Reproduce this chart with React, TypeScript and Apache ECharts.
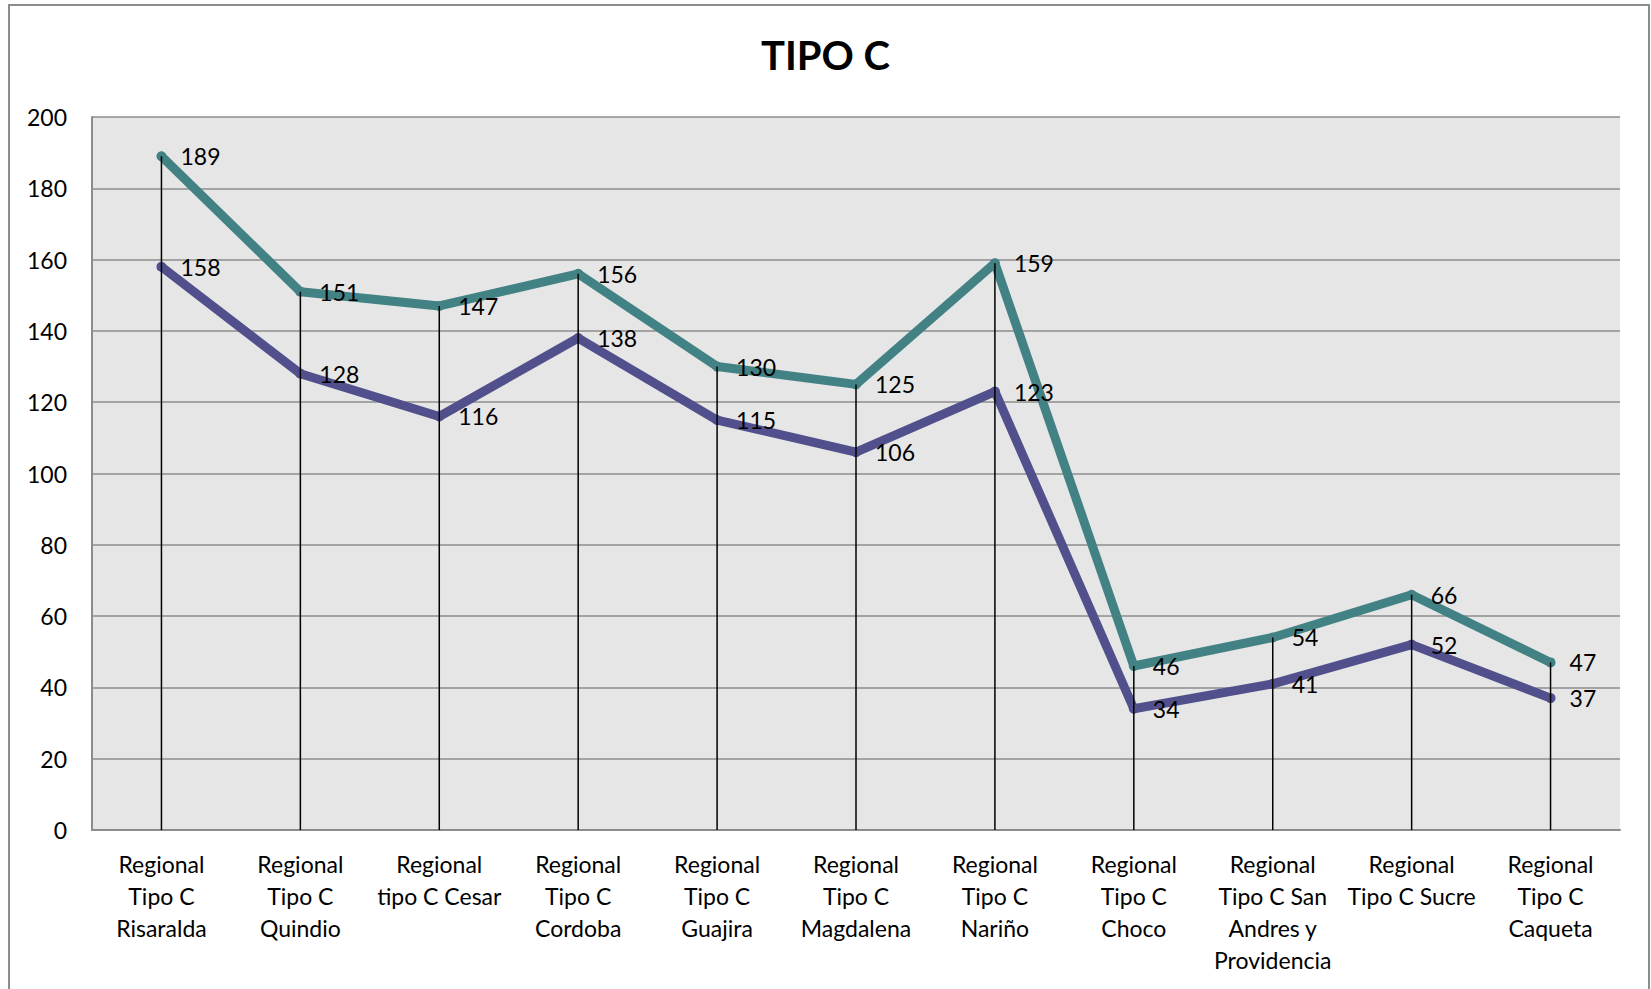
import React, { useEffect, useRef } from "react";
import * as echarts from "echarts";

const categories = [
  "Regional\nTipo C\nRisaralda",
  "Regional\nTipo C\nQuindio",
  "Regional\ntipo C Cesar",
  "Regional\nTipo C\nCordoba",
  "Regional\nTipo C\nGuajira",
  "Regional\nTipo C\nMagdalena",
  "Regional\nTipo C\nNariño",
  "Regional\nTipo C\nChoco",
  "Regional\nTipo C San\nAndres y\nProvidencia",
  "Regional\nTipo C Sucre",
  "Regional\nTipo C\nCaqueta",
];
const serieA = [189, 151, 147, 156, 130, 125, 159, 46, 54, 66, 47];
const serieB = [158, 128, 116, 138, 115, 106, 123, 34, 41, 52, 37];
const yTicks = { min: 0, max: 200, interval: 20 };

const FONT = "Lato, 'Open Sans', sans-serif";

export default function App() {
  const ref = useRef<HTMLDivElement>(null);
  useEffect(() => {
    document.body.style.margin = "0";
    if (!ref.current) return;
    const chart = echarts.init(ref.current, undefined, { renderer: "svg" });
    const dropData = categories.map((_, i) => [i, Math.max(serieA[i], serieB[i])]);
    const label = {
      show: true,
      position: "right" as const,
      distance: 14,
      color: "#000",
      fontSize: 23,
      fontFamily: FONT,
    };
    chart.setOption({
      animation: false,
      backgroundColor: "#fff",
      title: {
        text: "TIPO C",
        left: "center",
        top: 30,
        textStyle: { fontSize: 40, fontWeight: "bold", color: "#000", fontFamily: FONT },
      },
      graphic: [
        {
          type: "rect",
          shape: { x: 9, y: 5, width: 1640, height: 1000 },
          style: { fill: "none", stroke: "#8c8c8c", lineWidth: 2 },
          silent: true,
          z: 100,
        },
      ],
      grid: { left: 92, top: 117, right: 31, bottom: 159, show: true, backgroundColor: "#e6e6e6", borderWidth: 0 },
      xAxis: {
        type: "category",
        data: categories,
        boundaryGap: true,
        axisLine: { show: true, lineStyle: { color: "#8c8c8c", width: 2 } },
        axisTick: { show: false },
        axisLabel: {
          interval: 0,
          color: "#000",
          fontSize: 23,
          lineHeight: 32,
          fontFamily: FONT,
          margin: 18,
        },
      },
      yAxis: {
        type: "value",
        min: yTicks.min,
        max: yTicks.max,
        interval: yTicks.interval,
        axisLine: { show: true, lineStyle: { color: "#8c8c8c", width: 2 } },
        axisTick: { show: false },
        splitLine: { show: true, lineStyle: { color: "#8c8c8c", width: 1.5 } },
        axisLabel: { color: "#000", fontSize: 23, fontFamily: FONT, margin: 25 },
      },
      series: [
        {
          name: "Serie 1",
          type: "line",
          data: serieA,
          symbol: "circle",
          symbolSize: 10,
          lineStyle: { color: "#438284", width: 9, cap: "round", join: "round" },
          itemStyle: { color: "#438284" },
          label,
          z: 3,
        },
        {
          name: "Serie 2",
          type: "line",
          data: serieB,
          symbol: "circle",
          symbolSize: 10,
          lineStyle: { color: "#51508c", width: 9, cap: "round", join: "round" },
          itemStyle: { color: "#51508c" },
          label,
          z: 3,
        },
        {
          name: "drop",
          type: "custom",
          data: dropData,
          z: 5,
          silent: true,
          renderItem: (_params: any, api: any) => {
            const top = api.coord([api.value(0), api.value(1)]);
            const bottom = api.coord([api.value(0), 0]);
            return {
              type: "line",
              shape: { x1: top[0], y1: top[1], x2: bottom[0], y2: bottom[1] },
              style: { stroke: "#000", lineWidth: 1.5 },
            };
          },
        },
      ],
    });
    return () => chart.dispose();
  }, []);
  return <div ref={ref} style={{ width: 1651, height: 989 }} />;
}
